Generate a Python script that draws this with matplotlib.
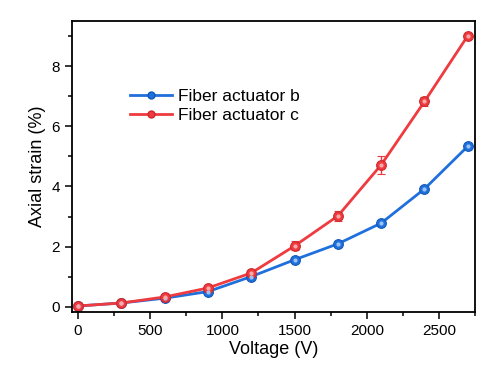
import numpy as np
import matplotlib
matplotlib.use('Agg')
import matplotlib.pyplot as plt
from matplotlib.lines import Line2D
from matplotlib.ticker import MultipleLocator

# data
voltage = [0, 300, 600, 900, 1200, 1500, 1800, 2100, 2400, 2700]
strain_b = [0.02, 0.12, 0.28, 0.50, 1.00, 1.56, 2.09, 2.78, 3.92, 5.34]
strain_c = [0.02, 0.12, 0.32, 0.62, 1.12, 2.02, 3.02, 4.72, 6.83, 9.02]
err_c = [0.02, 0.03, 0.04, 0.05, 0.06, 0.15, 0.16, 0.30, 0.15, 0.05]
labels = ['Fiber actuator b', 'Fiber actuator c']

blue = '#1f6fdc'
red = '#ef3b3f'

plt.rcParams['font.family'] = ['Liberation Sans', 'DejaVu Sans']
plt.rcParams['axes.linewidth'] = 1.1

fig = plt.figure(figsize=(4.88, 3.72), dpi=100)
ax = fig.add_axes([0.1475, 0.1613, 0.8265, 0.783])
for side in ['top', 'right', 'left', 'bottom']:
    ax.spines[side].set_visible(True)
    ax.spines[side].set_color('black')
    ax.spines[side].set_linewidth(1.3)
    ax.spines[side].set_zorder(10)

ax.plot(voltage, strain_b, color=blue, linewidth=2.0, marker='o', markersize=7,
        markerfacecolor=blue, markeredgecolor='#1558b8', markeredgewidth=0.8, zorder=3)
ax.errorbar(voltage, strain_c, yerr=err_c, color=red, linewidth=2.0, marker='o', markersize=7,
            markerfacecolor=red, markeredgecolor='#cc2a2e', markeredgewidth=0.8,
            elinewidth=1.0, capsize=3, capthick=1.0, zorder=4)
# small highlight on the markers
ax.plot(voltage, strain_b, linestyle='none', marker='o', markersize=2,
        color='#9cc3f5', zorder=5)
ax.plot(voltage, strain_c, linestyle='none', marker='o', markersize=2,
        color='#f8aaaa', zorder=6)

ax.set_xlim(-42, 2752)
ax.set_ylim(-0.18, 9.52)
ax.xaxis.set_major_locator(MultipleLocator(500))
ax.xaxis.set_minor_locator(MultipleLocator(250))
ax.yaxis.set_major_locator(MultipleLocator(2))
ax.yaxis.set_minor_locator(MultipleLocator(1))
ax.tick_params(which='major', direction='out', length=5, width=1.1, labelsize=11,
               top=False, right=False)
ax.tick_params(which='minor', direction='out', length=3, width=1.1, top=False, right=False)

ax.set_xlabel('Voltage (V)', fontsize=13, labelpad=2)
ax.set_ylabel('Axial strain (%)', fontsize=13, labelpad=4)

handles = [
    Line2D([], [], color=blue, linewidth=2.0, marker='o', markersize=5,
           markerfacecolor=blue, markeredgecolor='#1558b8'),
    Line2D([], [], color=red, linewidth=2.0, marker='o', markersize=5,
           markerfacecolor=red, markeredgecolor='#cc2a2e'),
]
ax.legend(handles, labels, loc='upper left', bbox_to_anchor=(0.127, 0.79), frameon=False,
          fontsize=12.5, handlelength=2.4, handletextpad=0.35, labelspacing=0.25,
          borderaxespad=0)

fig.savefig('out.png', dpi=100)
